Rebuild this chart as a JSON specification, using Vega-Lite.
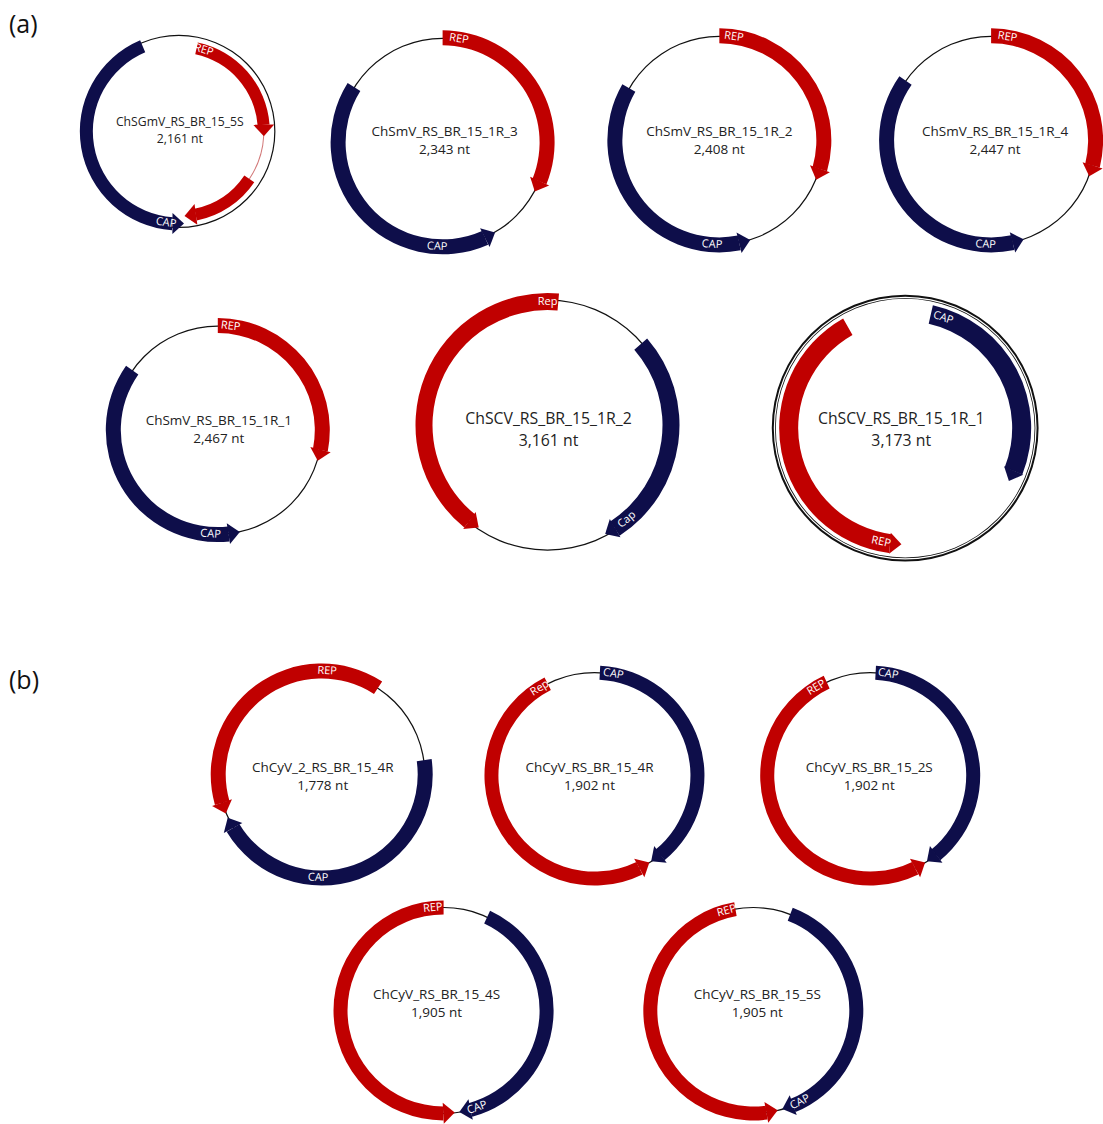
{
  "$schema": "https://vega.github.io/schema/vega-lite/v6.json",
  "width": 1103,
  "height": 1124,
  "autosize": {"type": "fit", "contains": "padding"},
  "padding": 0,
  "background": "white",
  "config": {"view": {"stroke": null}},
  "datasets": {
    "arcs": [
      {"cx": 179, "cy": 132, "kind": "line", "t0": 0, "t1": 360, "r0": 95.4, "r1": 96.6},
      {"cx": 179, "cy": 132, "kind": "intron", "t0": 93, "t1": 124, "r0": 84.5, "r1": 85.5},
      {"cx": 179, "cy": 132, "kind": "CAP", "t0": 184, "t1": 337, "r0": 86, "r1": 99},
      {"cx": 179, "cy": 132, "kind": "REP", "t0": 12, "t1": 85.6, "r0": 79, "r1": 91},
      {"cx": 179, "cy": 132, "kind": "REP", "t0": 124, "t1": 168.6, "r0": 79, "r1": 91},
      {"cx": 443, "cy": 143, "kind": "line", "t0": 0, "t1": 360, "r0": 103.4, "r1": 104.6},
      {"cx": 443, "cy": 143, "kind": "REP", "t0": 0, "t1": 112, "r0": 97, "r1": 112},
      {"cx": 443, "cy": 143, "kind": "CAP", "t0": 156, "t1": 302, "r0": 97, "r1": 112},
      {"cx": 720, "cy": 141, "kind": "line", "t0": 0, "t1": 360, "r0": 103.4, "r1": 104.6},
      {"cx": 720, "cy": 141, "kind": "REP", "t0": 0, "t1": 106, "r0": 97, "r1": 112},
      {"cx": 720, "cy": 141, "kind": "CAP", "t0": 169, "t1": 300, "r0": 97, "r1": 112},
      {"cx": 992, "cy": 141, "kind": "line", "t0": 0, "t1": 360, "r0": 103.4, "r1": 104.6},
      {"cx": 992, "cy": 141, "kind": "REP", "t0": 0, "t1": 104, "r0": 97, "r1": 112},
      {"cx": 992, "cy": 141, "kind": "CAP", "t0": 168, "t1": 305, "r0": 97, "r1": 112},
      {"cx": 218, "cy": 432, "kind": "line", "t0": 0, "t1": 360, "r0": 103.4, "r1": 104.6},
      {"cx": 218, "cy": 432, "kind": "REP", "t0": 0, "t1": 101, "r0": 97, "r1": 112},
      {"cx": 218, "cy": 432, "kind": "CAP", "t0": 174, "t1": 305, "r0": 97, "r1": 112},
      {"cx": 548, "cy": 427, "kind": "line", "t0": 0, "t1": 360, "r0": 124.4, "r1": 125.6},
      {"cx": 548, "cy": 427, "kind": "REP", "t0": 219.1, "t1": 365, "r0": 115, "r1": 132},
      {"cx": 548, "cy": 427, "kind": "CAP", "t0": 49, "t1": 146.9, "r0": 115, "r1": 132},
      {"cx": 906, "cy": 430, "kind": "line", "t0": 0, "t1": 360, "r0": 131.4, "r1": 133.4},
      {"cx": 906, "cy": 430, "kind": "line", "t0": 0, "t1": 360, "r0": 129.4, "r1": 130.2},
      {"cx": 906, "cy": 430, "kind": "REP", "t0": 187.4, "t1": 330.5, "r0": 107, "r1": 126},
      {"cx": 906, "cy": 430, "kind": "CAP", "t0": 12.7, "t1": 111.6, "r0": 107, "r1": 126},
      {"cx": 322, "cy": 778, "kind": "line", "t0": 0, "t1": 360, "r0": 102.4, "r1": 103.6},
      {"cx": 322, "cy": 778, "kind": "REP", "t0": 254.1, "t1": 393, "r0": 96, "r1": 111},
      {"cx": 322, "cy": 778, "kind": "CAP", "t0": 82, "t1": 238.9, "r0": 96, "r1": 111},
      {"cx": 595, "cy": 779, "kind": "line", "t0": 0, "t1": 360, "r0": 102.4, "r1": 103.6},
      {"cx": 595, "cy": 779, "kind": "CAP", "t0": 3, "t1": 140.4, "r0": 96, "r1": 110},
      {"cx": 595, "cy": 779, "kind": "REP", "t0": 154.1, "t1": 333, "r0": 96, "r1": 110},
      {"cx": 871, "cy": 779, "kind": "line", "t0": 0, "t1": 360, "r0": 102.4, "r1": 103.6},
      {"cx": 871, "cy": 779, "kind": "CAP", "t0": 3, "t1": 140.4, "r0": 96, "r1": 110},
      {"cx": 871, "cy": 779, "kind": "REP", "t0": 154.1, "t1": 335, "r0": 96, "r1": 110},
      {"cx": 444, "cy": 1015, "kind": "line", "t0": 0, "t1": 360, "r0": 102.4, "r1": 103.6},
      {"cx": 444, "cy": 1015, "kind": "CAP", "t0": 25, "t1": 164.9, "r0": 96, "r1": 110},
      {"cx": 444, "cy": 1015, "kind": "REP", "t0": 180.1, "t1": 360, "r0": 96, "r1": 110},
      {"cx": 754, "cy": 1015, "kind": "line", "t0": 0, "t1": 360, "r0": 102.4, "r1": 103.6},
      {"cx": 754, "cy": 1015, "kind": "CAP", "t0": 21, "t1": 157.4, "r0": 96, "r1": 110},
      {"cx": 754, "cy": 1015, "kind": "REP", "t0": 172.6, "t1": 350, "r0": 96, "r1": 110}
    ],
    "heads": [
      {"px": 178.4, "py": 224.5, "kind": "CAP", "rot": 0.4},
      {"px": 264.0, "py": 131.0, "kind": "REP", "rot": 89.3},
      {"px": 190.4, "py": 216.2, "kind": "REP", "rot": 172.3},
      {"px": 537.7, "py": 187.2, "kind": "REP", "rot": 115},
      {"px": 490.4, "py": 236.1, "kind": "CAP", "rot": 333},
      {"px": 818.8, "py": 175.0, "kind": "REP", "rot": 109},
      {"px": 745.3, "py": 242.4, "kind": "CAP", "rot": 346},
      {"px": 1091.9, "py": 171.6, "kind": "REP", "rot": 107},
      {"px": 1019.0, "py": 241.9, "kind": "CAP", "rot": 345},
      {"px": 319.4, "py": 457.3, "kind": "REP", "rot": 104},
      {"px": 234.3, "py": 535.2, "kind": "CAP", "rot": 351},
      {"px": 474.5, "py": 526.3, "kind": "REP", "rot": 36.5},
      {"px": 610.7, "py": 533.4, "kind": "CAP", "rot": 149.5},
      {"px": 896.5, "py": 546.1, "kind": "REP", "rot": 4.7},
      {"px": 1012.2, "py": 477.9, "kind": "CAP", "rot": 114.3},
      {"px": 224.1, "py": 811.7, "kind": "REP", "rot": 71},
      {"px": 230.6, "py": 826.6, "kind": "CAP", "rot": 242},
      {"px": 656.4, "py": 861.7, "kind": "CAP", "rot": 143.4},
      {"px": 644.9, "py": 869.1, "kind": "REP", "rot": 331},
      {"px": 932.4, "py": 861.7, "kind": "CAP", "rot": 143.4},
      {"px": 920.9, "py": 869.1, "kind": "REP", "rot": 331},
      {"px": 465.4, "py": 1115.7, "kind": "CAP", "rot": 168},
      {"px": 449.4, "py": 1117.9, "kind": "REP", "rot": 357},
      {"px": 788.5, "py": 1112.1, "kind": "CAP", "rot": 160.45},
      {"px": 772.7, "py": 1116.3, "kind": "REP", "rot": 349.55}
    ],
    "labels": [
      {"cx": 179, "cy": 132, "t": 17, "r": 85, "a": 17, "label": "REP"},
      {"cx": 179, "cy": 132, "t": 188, "r": 92.5, "a": 8, "label": "CAP"},
      {"cx": 443, "cy": 143, "t": 9, "r": 104.5, "a": 9, "label": "REP"},
      {"cx": 443, "cy": 143, "t": 183, "r": 104.5, "a": 3, "label": "CAP"},
      {"cx": 720, "cy": 141, "t": 8, "r": 104.5, "a": 8, "label": "REP"},
      {"cx": 720, "cy": 141, "t": 184, "r": 104.5, "a": 4, "label": "CAP"},
      {"cx": 992, "cy": 141, "t": 9, "r": 104.5, "a": 9, "label": "REP"},
      {"cx": 992, "cy": 141, "t": 183, "r": 104.5, "a": 3, "label": "CAP"},
      {"cx": 218, "cy": 432, "t": 7, "r": 104.5, "a": 7, "label": "REP"},
      {"cx": 218, "cy": 432, "t": 184, "r": 104.5, "a": 4, "label": "CAP"},
      {"cx": 548, "cy": 427, "t": 0, "r": 123.5, "a": 0, "label": "Rep"},
      {"cx": 548, "cy": 427, "t": 140, "r": 123.5, "a": -40, "label": "Cap"},
      {"cx": 906, "cy": 430, "t": 192, "r": 116.5, "a": 12, "label": "REP"},
      {"cx": 906, "cy": 430, "t": 19, "r": 116.5, "a": 19, "label": "CAP"},
      {"cx": 322, "cy": 778, "t": 3, "r": 103.5, "a": 3, "label": "REP"},
      {"cx": 322, "cy": 778, "t": 182, "r": 103.5, "a": 2, "label": "CAP"},
      {"cx": 595, "cy": 779, "t": 10.5, "r": 103, "a": 10.5, "label": "CAP"},
      {"cx": 595, "cy": 779, "t": 328, "r": 103, "a": -32, "label": "Rep"},
      {"cx": 871, "cy": 779, "t": 10, "r": 103, "a": 10, "label": "CAP"},
      {"cx": 871, "cy": 779, "t": 328.5, "r": 103, "a": -31.5, "label": "REP"},
      {"cx": 444, "cy": 1015, "t": 354, "r": 103, "a": -6, "label": "REP"},
      {"cx": 444, "cy": 1015, "t": 161, "r": 103, "a": -19, "label": "CAP"},
      {"cx": 754, "cy": 1015, "t": 345, "r": 103, "a": -15, "label": "REP"},
      {"cx": 754, "cy": 1015, "t": 153, "r": 103, "a": -27, "label": "CAP"}
    ],
    "titlesSmall": [
      {"tx": 180, "ty": 131.5, "name": "ChSGmV_RS_BR_15_5S", "nt": "2,161 nt"}
    ],
    "titles": [
      {"tx": 445, "ty": 142, "name": "ChSmV_RS_BR_15_1R_3", "nt": "2,343 nt"},
      {"tx": 720, "ty": 142, "name": "ChSmV_RS_BR_15_1R_2", "nt": "2,408 nt"},
      {"tx": 996, "ty": 142, "name": "ChSmV_RS_BR_15_1R_4", "nt": "2,447 nt"},
      {"tx": 219, "ty": 432, "name": "ChSmV_RS_BR_15_1R_1", "nt": "2,467 nt"},
      {"tx": 323, "ty": 780, "name": "ChCyV_2_RS_BR_15_4R", "nt": "1,778 nt"},
      {"tx": 590, "ty": 780, "name": "ChCyV_RS_BR_15_4R", "nt": "1,902 nt"},
      {"tx": 870, "ty": 780, "name": "ChCyV_RS_BR_15_2S", "nt": "1,902 nt"},
      {"tx": 437, "ty": 1008, "name": "ChCyV_RS_BR_15_4S", "nt": "1,905 nt"},
      {"tx": 758, "ty": 1008, "name": "ChCyV_RS_BR_15_5S", "nt": "1,905 nt"}
    ],
    "titlesBig": [
      {"tx": 549, "ty": 432, "name": "ChSCV_RS_BR_15_1R_2", "nt": "3,161 nt"},
      {"tx": 902, "ty": 432, "name": "ChSCV_RS_BR_15_1R_1", "nt": "3,173 nt"}
    ],
    "panels": [
      {"tx": 9, "ty": 25, "p": "(a)"},
      {"tx": 9, "ty": 684, "p": "(b)"}
    ]
  },
  "layer": [
    {
      "data": {"name": "arcs"},
      "mark": {"type": "arc"},
      "encoding": {
        "x": {"field": "cx", "type": "quantitative", "scale": {"domain": [0, 1103], "nice": false, "zero": false}, "axis": null},
        "y": {"field": "cy", "type": "quantitative", "scale": {"domain": [0, 1124], "reverse": true, "nice": false, "zero": false}, "axis": null},
        "theta": {"field": "t0", "type": "quantitative", "stack": null, "scale": {"domain": [0, 360], "range": [0, 6.283185307179586]}},
        "theta2": {"field": "t1"},
        "radius": {"field": "r0", "type": "quantitative", "stack": null, "scale": {"type": "linear", "domain": [0, 500], "range": [0, 500], "zero": true}},
        "radius2": {"field": "r1"},
        "color": {"field": "kind", "type": "nominal", "scale": {"domain": ["REP", "CAP", "line", "intron"], "range": ["#C00000", "#0E0E4A", "#111111", "#D27878"]}, "legend": null}
      }
    },
    {
      "data": {"name": "heads"},
      "mark": {"type": "point", "shape": "M-0.55,-1L0.55,0L-0.55,1Z", "filled": true, "opacity": 1, "size": 441, "strokeWidth": 0},
      "encoding": {
        "x": {"field": "px", "type": "quantitative"},
        "y": {"field": "py", "type": "quantitative"},
        "angle": {"field": "rot", "type": "quantitative", "scale": {"domain": [0, 360], "range": [0, 360]}},
        "color": {"field": "kind", "type": "nominal", "legend": null}
      }
    },
    {
      "data": {"name": "labels"},
      "mark": {"type": "text", "color": "white", "font": "Open Sans", "fontSize": 11, "align": "center", "baseline": "middle"},
      "encoding": {
        "x": {"field": "cx", "type": "quantitative"},
        "y": {"field": "cy", "type": "quantitative"},
        "theta": {"field": "t", "type": "quantitative", "stack": null},
        "radius": {"field": "r", "type": "quantitative", "stack": null},
        "angle": {"field": "a", "type": "quantitative"},
        "text": {"field": "label"}
      }
    },
    {
      "data": {"name": "titlesSmall"},
      "mark": {"type": "text", "color": "#222222", "font": "Open Sans", "fontSize": 12.2, "align": "center", "baseline": "middle", "dy": -8.5},
      "encoding": {
        "x": {"field": "tx", "type": "quantitative"},
        "y": {"field": "ty", "type": "quantitative"},
        "text": {"field": "name"}
      }
    },
    {
      "data": {"name": "titlesSmall"},
      "mark": {"type": "text", "color": "#222222", "font": "Open Sans", "fontSize": 12.2, "align": "center", "baseline": "middle", "dy": 8.5},
      "encoding": {
        "x": {"field": "tx", "type": "quantitative"},
        "y": {"field": "ty", "type": "quantitative"},
        "text": {"field": "nt"}
      }
    },
    {
      "data": {"name": "titles"},
      "mark": {"type": "text", "color": "#222222", "font": "Open Sans", "fontSize": 13.5, "align": "center", "baseline": "middle", "dy": -9},
      "encoding": {
        "x": {"field": "tx", "type": "quantitative"},
        "y": {"field": "ty", "type": "quantitative"},
        "text": {"field": "name"}
      }
    },
    {
      "data": {"name": "titles"},
      "mark": {"type": "text", "color": "#222222", "font": "Open Sans", "fontSize": 13.5, "align": "center", "baseline": "middle", "dy": 9},
      "encoding": {
        "x": {"field": "tx", "type": "quantitative"},
        "y": {"field": "ty", "type": "quantitative"},
        "text": {"field": "nt"}
      }
    },
    {
      "data": {"name": "titlesBig"},
      "mark": {"type": "text", "color": "#222222", "font": "Open Sans", "fontSize": 15.8, "align": "center", "baseline": "middle", "dy": -11},
      "encoding": {
        "x": {"field": "tx", "type": "quantitative"},
        "y": {"field": "ty", "type": "quantitative"},
        "text": {"field": "name"}
      }
    },
    {
      "data": {"name": "titlesBig"},
      "mark": {"type": "text", "color": "#222222", "font": "Open Sans", "fontSize": 15.8, "align": "center", "baseline": "middle", "dy": 11},
      "encoding": {
        "x": {"field": "tx", "type": "quantitative"},
        "y": {"field": "ty", "type": "quantitative"},
        "text": {"field": "nt"}
      }
    },
    {
      "data": {"name": "panels"},
      "mark": {"type": "text", "color": "#111111", "font": "Open Sans", "fontSize": 25, "align": "left", "baseline": "middle"},
      "encoding": {
        "x": {"field": "tx", "type": "quantitative"},
        "y": {"field": "ty", "type": "quantitative"},
        "text": {"field": "p"}
      }
    }
  ]
}
